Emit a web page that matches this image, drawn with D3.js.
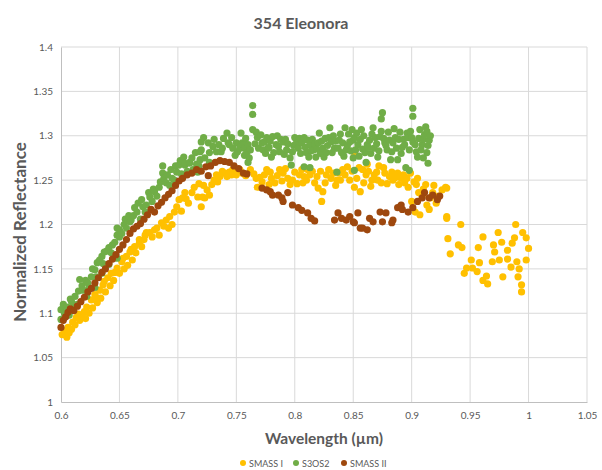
<!DOCTYPE html>
<html lang="en">
<head>
    <meta charset="UTF-8">
    <title>354 Eleonora</title>
    <script src="https://cdnjs.cloudflare.com/ajax/libs/d3/7.8.5/d3.min.js"></script>
    <style>
        body { margin: 0; background: #fff; }
        text { font-family: Lato, "Open Sans", sans-serif; fill: #595959; }
    </style>
</head>
<body>
    <div id="chart"></div>

    <script>
        // Series names and colours (Excel default palette)
        const seriesNames = ["SMASS I", "S3OS2", "SMASS II"];
        const seriesColors = ["#ffc000", "#70ad47", "#9e480e"];

        // Axis ticks
        const xTicks = [0.6, 0.65, 0.7, 0.75, 0.8, 0.85, 0.9, 0.95, 1, 1.05];
        const yTicks = [1, 1.05, 1.1, 1.15, 1.2, 1.25, 1.3, 1.35, 1.4];

        // [wavelength (µm), normalized reflectance]
        const smass1 = [
            [0.601,1.076],[0.603,1.080],[0.605,1.073],[0.606,1.084],[0.607,1.078],[0.609,1.082],[0.610,1.090],[0.612,1.087],
            [0.613,1.095],[0.615,1.099],[0.616,1.092],[0.618,1.097],[0.620,1.102],[0.621,1.094],[0.622,1.107],[0.624,1.100],
            [0.626,1.115],[0.627,1.106],[0.629,1.121],[0.630,1.118],[0.631,1.112],[0.633,1.126],[0.634,1.117],[0.636,1.132],
            [0.637,1.136],[0.638,1.124],[0.640,1.140],[0.642,1.131],[0.643,1.145],[0.645,1.137],[0.646,1.146],[0.648,1.151],
            [0.650,1.145],[0.652,1.158],[0.653,1.162],[0.654,1.150],[0.656,1.164],[0.657,1.154],[0.659,1.169],[0.660,1.172],
            [0.661,1.160],[0.663,1.175],[0.664,1.168],[0.667,1.179],[0.667,1.183],[0.669,1.175],[0.671,1.183],[0.672,1.188],
            [0.673,1.191],[0.676,1.191],[0.678,1.186],[0.680,1.194],[0.682,1.196],[0.684,1.188],[0.686,1.202],[0.688,1.198],
            [0.690,1.205],[0.692,1.196],[0.693,1.209],[0.695,1.200],[0.697,1.214],[0.699,1.220],[0.701,1.228],[0.703,1.215],
            [0.704,1.230],[0.706,1.236],[0.707,1.229],[0.709,1.224],[0.712,1.236],[0.714,1.242],[0.717,1.231],[0.718,1.246],
            [0.720,1.220],[0.721,1.231],[0.722,1.244],[0.723,1.230],[0.725,1.239],[0.727,1.233],[0.729,1.245],[0.731,1.250],
            [0.733,1.256],[0.734,1.248],[0.736,1.254],[0.738,1.260],[0.740,1.258],[0.742,1.254],[0.744,1.259],[0.746,1.256],
            [0.747,1.262],[0.750,1.256],[0.751,1.262],[0.753,1.262],[0.755,1.258],[0.758,1.255],
            [0.762,1.262],[0.765,1.257],[0.767,1.252],[0.768,1.242],[0.770,1.253],[0.772,1.248],[0.774,1.256],[0.776,1.262],
            [0.778,1.245],[0.779,1.259],[0.780,1.252],[0.783,1.247],[0.785,1.255],[0.787,1.262],[0.789,1.249],[0.790,1.258],
            [0.792,1.263],[0.794,1.252],[0.796,1.245],[0.798,1.250],[0.800,1.259],[0.802,1.246],[0.804,1.256],[0.806,1.262],
            [0.807,1.247],[0.808,1.254],[0.810,1.250],[0.811,1.262],[0.813,1.256],[0.815,1.260],[0.817,1.247],[0.819,1.254],
            [0.820,1.241],[0.822,1.260],[0.823,1.226],[0.824,1.237],[0.826,1.247],[0.827,1.256],[0.829,1.262],[0.831,1.252],
            [0.833,1.258],[0.835,1.244],[0.836,1.250],[0.838,1.258],[0.839,1.250],[0.841,1.262],[0.843,1.256],[0.845,1.265],
            [0.847,1.250],[0.849,1.260],[0.851,1.242],[0.851,1.281],[0.853,1.252],[0.855,1.264],[0.856,1.237],[0.858,1.262],
            [0.859,1.247],[0.861,1.256],[0.862,1.268],[0.863,1.260],[0.865,1.243],[0.866,1.250],[0.868,1.256],[0.870,1.259],
            [0.871,1.250],[0.872,1.266],[0.874,1.247],[0.876,1.264],[0.877,1.258],[0.879,1.246],[0.881,1.254],[0.883,1.259],
            [0.884,1.250],[0.886,1.253],[0.888,1.258],[0.889,1.245],[0.891,1.252],[0.893,1.256],[0.894,1.247],[0.896,1.252],
            [0.897,1.242],[0.899,1.258],[0.900,1.226],[0.902,1.248],[0.903,1.214],[0.904,1.245],[0.905,1.252],[0.906,1.236],
            [0.907,1.211],[0.909,1.232],[0.910,1.240],[0.912,1.245],[0.913,1.222],[0.915,1.217],[0.916,1.230],[0.918,1.236],
            [0.919,1.244],[0.921,1.224],[0.923,1.232],[0.926,1.239],[0.929,1.242],[0.930,1.241],[0.930,1.207],
            [0.930,1.209],[0.931,1.184],[0.933,1.167],[0.940,1.177],[0.942,1.200],[0.943,1.174],[0.945,1.145],[0.947,1.151],
            [0.951,1.160],[0.952,1.151],[0.956,1.147],[0.957,1.174],[0.958,1.157],[0.961,1.137],[0.961,1.186],[0.964,1.142],
            [0.965,1.133],[0.969,1.158],[0.970,1.177],[0.971,1.169],[0.974,1.191],[0.975,1.160],[0.977,1.180],[0.978,1.141],
            [0.982,1.171],[0.982,1.161],[0.985,1.152],[0.986,1.179],[0.988,1.185],[0.989,1.200],[0.990,1.158],[0.991,1.141],
            [0.992,1.150],[0.994,1.132],[0.994,1.124],[0.995,1.191],[0.998,1.185],[0.998,1.160],[1.000,1.173]
        ];

        const s3os2 = [
            [0.600,1.093],[0.600,1.104],[0.602,1.110],[0.603,1.100],[0.605,1.107],[0.607,1.098],[0.608,1.116],[0.609,1.113],
            [0.611,1.108],[0.612,1.119],[0.614,1.110],[0.615,1.125],[0.616,1.138],[0.618,1.131],[0.619,1.126],[0.621,1.137],
            [0.622,1.119],[0.623,1.134],[0.624,1.128],[0.626,1.141],[0.627,1.150],[0.629,1.129],[0.629,1.149],[0.630,1.141],
            [0.631,1.157],[0.633,1.160],[0.635,1.145],[0.635,1.164],[0.636,1.156],[0.637,1.169],[0.639,1.170],[0.641,1.155],
            [0.641,1.174],[0.643,1.168],[0.644,1.177],[0.646,1.180],[0.648,1.162],[0.648,1.188],[0.648,1.196],[0.650,1.186],
            [0.650,1.194],[0.652,1.190],[0.654,1.200],[0.655,1.206],[0.656,1.196],[0.658,1.210],[0.659,1.203],[0.660,1.205],
            [0.662,1.210],[0.663,1.219],[0.665,1.214],[0.666,1.224],[0.668,1.206],[0.669,1.228],[0.670,1.220],[0.672,1.214],
            [0.673,1.222],[0.675,1.236],[0.676,1.231],[0.678,1.226],[0.679,1.240],[0.680,1.237],[0.682,1.232],[0.684,1.242],
            [0.685,1.248],[0.687,1.258],[0.687,1.266],[0.688,1.252],[0.690,1.247],[0.691,1.256],[0.693,1.244],[0.694,1.262],
            [0.695,1.252],[0.697,1.250],[0.698,1.266],[0.699,1.259],[0.701,1.267],[0.702,1.272],[0.703,1.257],[0.705,1.276],
            [0.706,1.267],[0.706,1.269],[0.708,1.260],[0.710,1.269],[0.710,1.270],[0.712,1.275],[0.713,1.262],[0.715,1.281],
            [0.716,1.268],[0.717,1.259],[0.718,1.266],[0.719,1.273],[0.719,1.282],[0.720,1.284],[0.720,1.293],[0.722,1.298],
            [0.723,1.275],[0.726,1.292],[0.727,1.270],[0.727,1.281],[0.730,1.288],[0.731,1.296],[0.733,1.282],[0.735,1.290],
            [0.737,1.282],[0.738,1.286],[0.739,1.297],[0.742,1.303],[0.743,1.292],[0.744,1.290],[0.746,1.298],[0.747,1.286],
            [0.749,1.278],[0.750,1.292],[0.751,1.282],[0.753,1.286],[0.754,1.303],[0.755,1.292],[0.756,1.290],[0.757,1.286],
            [0.757,1.278],[0.758,1.297],[0.759,1.281],[0.760,1.270],[0.760,1.290],[0.761,1.275],[0.762,1.284],[0.764,1.334],
            [0.764,1.324],[0.764,1.307],[0.766,1.291],[0.767,1.304],[0.768,1.298],[0.769,1.286],[0.771,1.301],[0.772,1.292],
            [0.773,1.284],[0.774,1.293],[0.775,1.280],[0.776,1.298],[0.777,1.286],[0.778,1.287],[0.779,1.294],[0.780,1.276],
            [0.781,1.299],[0.782,1.281],[0.784,1.290],[0.785,1.300],[0.786,1.288],[0.787,1.282],[0.788,1.296],[0.790,1.293],
            [0.791,1.279],[0.792,1.296],[0.793,1.284],[0.794,1.291],[0.796,1.275],[0.797,1.267],[0.798,1.282],[0.799,1.289],
            [0.800,1.298],[0.801,1.291],[0.803,1.286],[0.804,1.297],[0.805,1.280],[0.806,1.292],[0.808,1.298],[0.808,1.265],
            [0.809,1.287],[0.810,1.281],[0.811,1.295],[0.812,1.276],[0.813,1.290],[0.813,1.264],[0.814,1.283],[0.815,1.296],
            [0.816,1.284],[0.817,1.291],[0.818,1.276],[0.819,1.285],[0.820,1.292],[0.821,1.303],[0.822,1.280],[0.823,1.294],
            [0.824,1.286],[0.825,1.276],[0.826,1.297],[0.827,1.281],[0.828,1.289],[0.829,1.298],[0.830,1.309],[0.831,1.293],
            [0.832,1.281],[0.833,1.300],[0.834,1.286],[0.835,1.294],[0.836,1.259],[0.837,1.286],[0.838,1.295],[0.839,1.302],
            [0.840,1.281],[0.841,1.292],[0.842,1.277],[0.843,1.309],[0.844,1.284],[0.845,1.289],[0.846,1.302],[0.847,1.293],
            [0.848,1.283],[0.849,1.307],[0.850,1.275],[0.850,1.295],[0.851,1.261],[0.851,1.298],[0.852,1.284],[0.853,1.303],
            [0.854,1.290],[0.855,1.277],[0.856,1.296],[0.857,1.307],[0.858,1.285],[0.859,1.300],[0.860,1.281],[0.861,1.270],
            [0.862,1.290],[0.863,1.287],[0.864,1.295],[0.865,1.280],[0.866,1.302],[0.867,1.309],[0.868,1.286],[0.869,1.298],
            [0.870,1.291],[0.871,1.276],[0.872,1.283],[0.873,1.299],[0.874,1.319],[0.874,1.305],[0.875,1.326],[0.876,1.297],
            [0.877,1.292],[0.878,1.289],[0.879,1.284],[0.880,1.304],[0.881,1.295],[0.882,1.273],[0.883,1.282],[0.884,1.292],
            [0.885,1.308],[0.886,1.298],[0.887,1.286],[0.888,1.273],[0.889,1.296],[0.890,1.304],[0.891,1.280],[0.892,1.287],
            [0.893,1.296],[0.894,1.290],[0.895,1.264],[0.896,1.303],[0.897,1.298],[0.898,1.261],[0.898,1.284],[0.899,1.305],
            [0.900,1.298],[0.901,1.331],[0.901,1.322],[0.901,1.293],[0.903,1.290],[0.904,1.282],[0.905,1.276],[0.906,1.297],
            [0.907,1.307],[0.908,1.284],[0.909,1.290],[0.910,1.275],[0.910,1.296],[0.911,1.301],[0.912,1.310],[0.913,1.281],
            [0.913,1.305],[0.914,1.269],[0.914,1.289],[0.915,1.295],[0.916,1.300]
        ];

        const smass2 = [
            [0.600,1.084],[0.602,1.092],[0.604,1.096],[0.606,1.101],[0.608,1.105],[0.611,1.103],[0.614,1.108],[0.617,1.113],
            [0.620,1.118],[0.623,1.124],[0.626,1.128],[0.629,1.134],[0.632,1.140],[0.635,1.146],[0.638,1.150],[0.641,1.156],
            [0.644,1.161],[0.647,1.166],[0.650,1.172],[0.653,1.177],[0.656,1.183],[0.659,1.190],[0.662,1.195],[0.665,1.198],
            [0.668,1.201],[0.671,1.206],[0.674,1.211],[0.677,1.217],[0.680,1.214],[0.683,1.221],[0.686,1.225],[0.689,1.230],
            [0.692,1.234],[0.695,1.238],[0.698,1.244],[0.701,1.249],[0.704,1.252],[0.708,1.256],[0.712,1.258],[0.716,1.262],
            [0.720,1.260],[0.724,1.265],[0.726,1.255],[0.728,1.266],[0.732,1.270],[0.736,1.272],[0.740,1.271],[0.744,1.270],
            [0.748,1.266],[0.752,1.263],[0.756,1.258],[0.759,1.257],
            [0.772,1.241],[0.776,1.239],[0.779,1.237],[0.781,1.233],[0.786,1.233],[0.789,1.230],[0.790,1.226],[0.794,1.236],
            [0.798,1.222],[0.803,1.219],[0.806,1.216],[0.811,1.213],[0.814,1.207],[0.817,1.204],
            [0.834,1.205],[0.837,1.213],[0.840,1.207],[0.844,1.205],[0.847,1.209],[0.850,1.203],[0.851,1.202],[0.854,1.213],
            [0.856,1.196],[0.858,1.196],[0.862,1.194],[0.864,1.207],[0.867,1.203],[0.873,1.214],[0.875,1.203],[0.878,1.213],
            [0.883,1.202],[0.884,1.205],[0.888,1.219],[0.891,1.222],[0.892,1.217],[0.897,1.214],[0.901,1.219],[0.905,1.226],
            [0.909,1.230],[0.911,1.236],[0.915,1.230],[0.918,1.233],[0.922,1.228],[0.924,1.232]
        ];

        const seriesData = [smass1, s3os2, smass2];

        // Chart dimensions
        const W = 602, H = 470;
        const margin = {top: 47, right: 15, bottom: 68, left: 61};
        const width = W - margin.left - margin.right;
        const height = H - margin.top - margin.bottom;

        const svg = d3.select("#chart")
            .append("svg")
            .attr("width", W)
            .attr("height", H);

        const g = svg.append("g")
            .attr("transform", `translate(${margin.left},${margin.top})`);

        // Scales
        const x = d3.scaleLinear().domain([0.6, 1.05]).range([0, width]);
        const y = d3.scaleLinear().domain([1, 1.4]).range([height, 0]);

        // Gridlines
        g.append("g")
            .selectAll("line")
            .data(xTicks.slice(1))
            .enter().append("line")
            .attr("x1", d => x(d)).attr("x2", d => x(d))
            .attr("y1", 0).attr("y2", height)
            .attr("stroke", "#d9d9d9").attr("stroke-width", 1);

        g.append("g")
            .selectAll("line")
            .data(yTicks.slice(1))
            .enter().append("line")
            .attr("x1", 0).attr("x2", width)
            .attr("y1", d => y(d)).attr("y2", d => y(d))
            .attr("stroke", "#d9d9d9").attr("stroke-width", 1);

        // X axis
        const xAxis = g.append("g")
            .attr("transform", `translate(0,${height})`)
            .call(d3.axisBottom(x).tickValues(xTicks).tickSize(0).tickPadding(10).tickFormat(d3.format("")));
        xAxis.select(".domain").attr("stroke", "#bfbfbf");
        xAxis.selectAll("text").style("font-size", "10px").attr("fill", "#595959");

        // Y axis
        const yAxis = g.append("g")
            .call(d3.axisLeft(y).tickValues(yTicks).tickSize(0).tickPadding(8).tickFormat(d3.format("")));
        yAxis.select(".domain").attr("stroke", "#bfbfbf");
        yAxis.selectAll("text").style("font-size", "10px").attr("fill", "#595959");

        // Points, in series order so SMASS II ends up on top
        seriesData.forEach((data, i) => {
            g.append("g")
                .selectAll("circle")
                .data(data)
                .enter().append("circle")
                .attr("cx", d => x(d[0]))
                .attr("cy", d => y(d[1]))
                .attr("r", 3.6)
                .attr("fill", seriesColors[i]);
        });

        // Title
        svg.append("text")
            .attr("x", W / 2)
            .attr("y", 29)
            .attr("text-anchor", "middle")
            .style("font-size", "16px")
            .style("font-weight", 700)
            .text("354 Eleonora");

        // Axis titles
        svg.append("text")
            .attr("x", margin.left + width / 2)
            .attr("y", 444)
            .attr("text-anchor", "middle")
            .style("font-size", "15.5px")
            .style("font-weight", 700)
            .text("Wavelength (µm)");

        svg.append("text")
            .attr("transform", "rotate(-90)")
            .attr("x", -232)
            .attr("y", 26)
            .attr("text-anchor", "middle")
            .style("font-size", "17px")
            .style("font-weight", 700)
            .text("Normalized Reflectance");

        // Legend
        const legendX = [240, 293, 341];
        const legend = svg.append("g");
        seriesNames.forEach((name, i) => {
            legend.append("circle")
                .attr("cx", legendX[i] + 3)
                .attr("cy", 463)
                .attr("r", 3)
                .attr("fill", seriesColors[i]);
            legend.append("text")
                .attr("x", legendX[i] + 9)
                .attr("y", 466.5)
                .style("font-size", "9px")
                .text(name);
        });
    </script>
</body>
</html>
